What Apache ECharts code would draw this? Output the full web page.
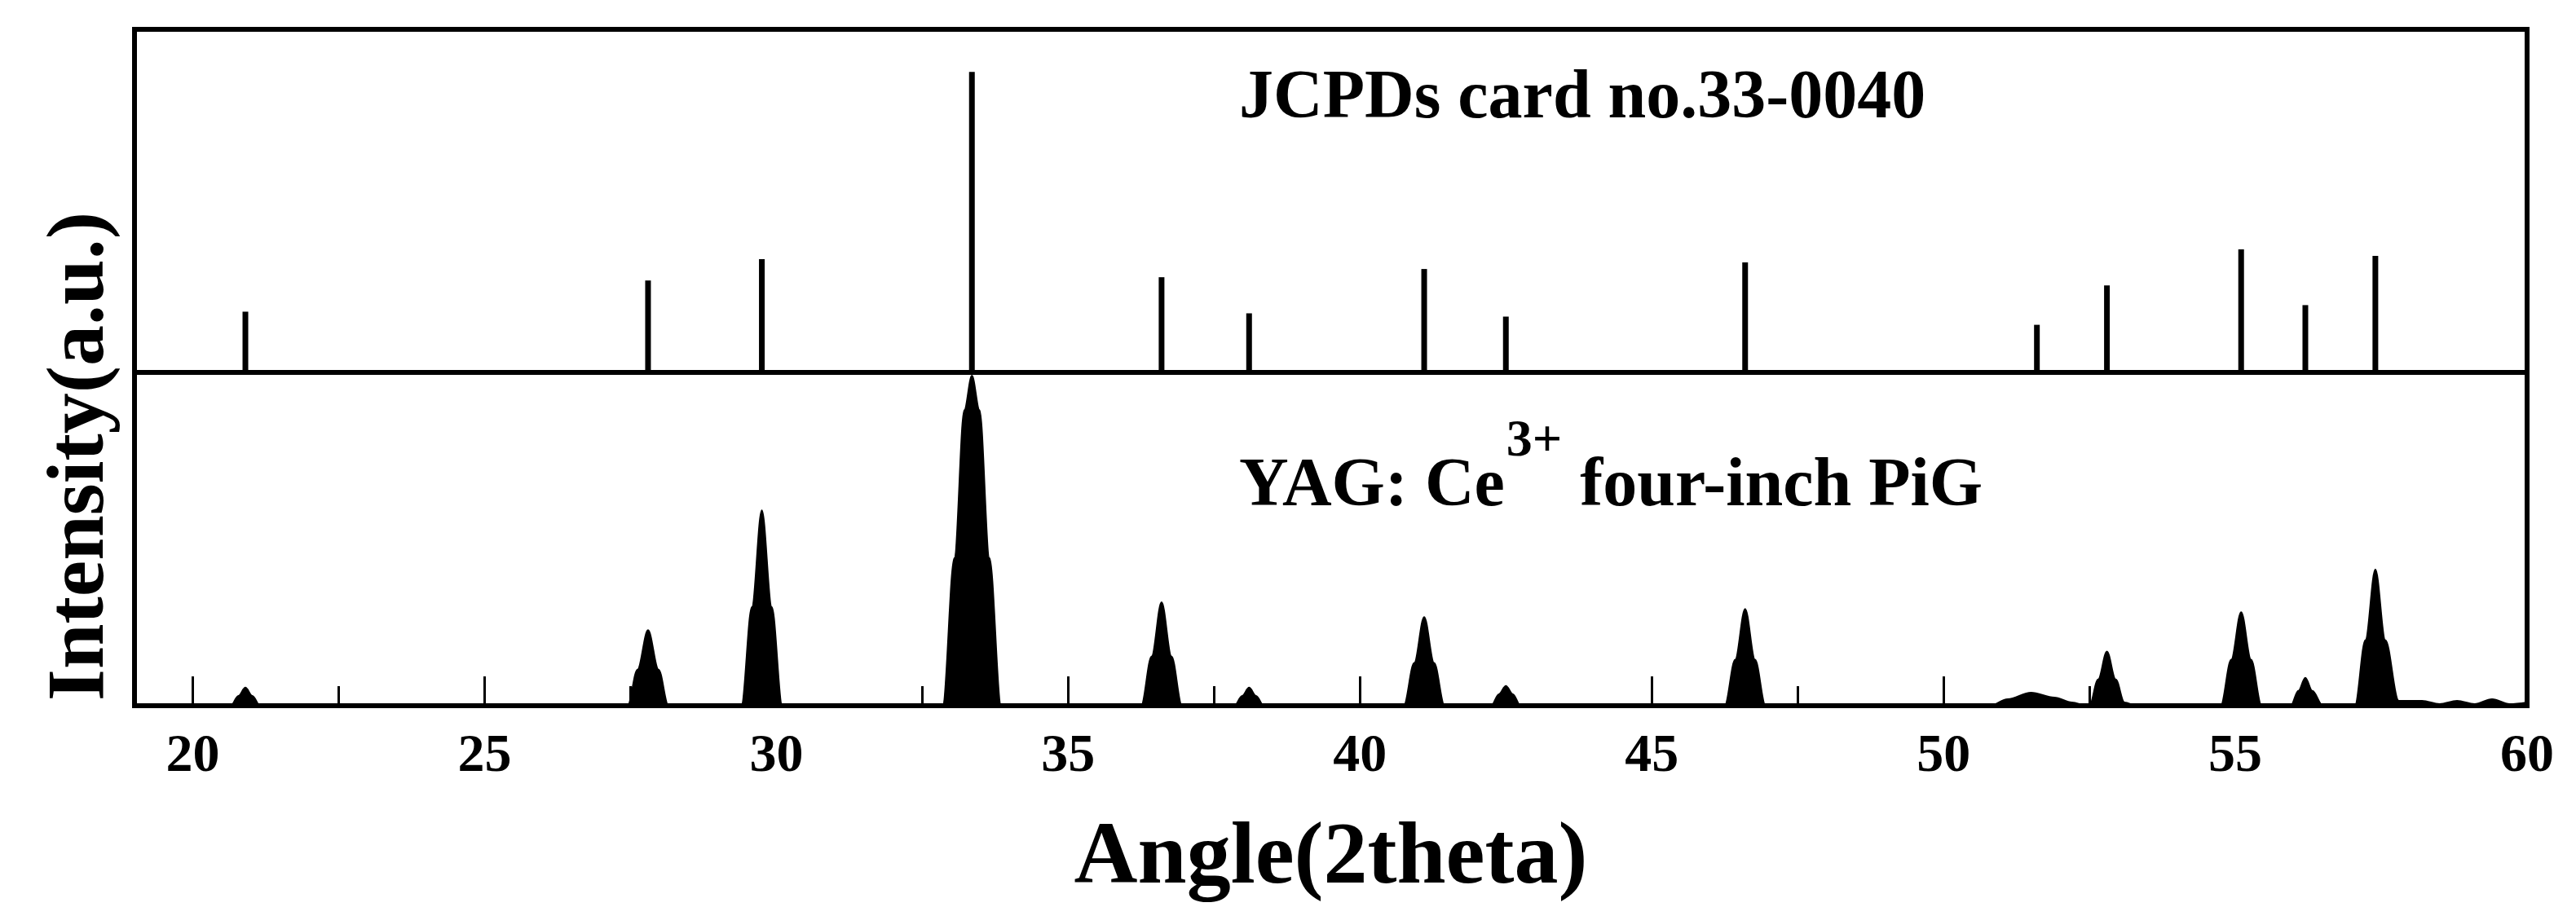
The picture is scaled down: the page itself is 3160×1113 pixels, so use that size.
<!DOCTYPE html>
<html><head><meta charset="utf-8">
<script src="https://cdn.jsdelivr.net/npm/echarts@6/dist/echarts.min.js"></script>
<style>html,body{margin:0;background:#fff}#c{width:3160px;height:1113px}</style>
</head><body><div id="c"></div>
<script>
// JCPDS card 33-0040 reference lines [2theta, relative intensity]
const cardLines = [
  [20.9, 37], [27.8, 56], [29.75, 69], [33.35, 183], [36.6, 58], [38.1, 36],
  [41.1, 63], [42.5, 34], [46.6, 67], [51.6, 29], [52.8, 53], [55.1, 75],
  [56.2, 41], [57.4, 71]
]
const pigProfile = [
  [19, 0], [20.65, 0], [20.78, 6], [20.9, 11], [21.02, 6], [21.15, 0],
  [27.45, 0], [27.62, 22], [27.8, 46], [27.98, 22], [28.15, 0],
  [29.4, 0], [29.58, 60], [29.75, 119], [29.92, 60], [30.1, 0],
  [32.85, 0], [33.05, 90], [33.22, 180], [33.35, 201], [33.48, 180], [33.65, 90], [33.85, 0],
  [36.25, 0], [36.43, 30], [36.6, 63], [36.77, 30], [36.95, 0],
  [37.85, 0], [37.98, 6], [38.1, 11], [38.22, 6], [38.35, 0],
  [40.75, 0], [40.93, 26], [41.1, 54], [41.27, 26], [41.45, 0],
  [42.25, 0], [42.38, 7], [42.5, 12], [42.62, 7], [42.75, 0],
  [46.25, 0], [46.43, 28], [46.6, 59], [46.77, 28], [46.95, 0],
  [50.8, 0], [51.1, 4], [51.5, 8], [51.9, 5], [52.2, 2], [52.45, 0],
  [52.5, 0], [52.65, 16], [52.8, 33], [52.95, 16], [53.1, 2], [53.3, 0],
  [54.75, 0], [54.93, 28], [55.1, 57], [55.27, 28], [55.45, 0],
  [55.95, 0], [56.08, 9], [56.2, 17], [56.32, 9], [56.5, 0],
  [57.05, 0], [57.23, 40], [57.4, 83], [57.57, 40], [57.8, 3],
  [58.2, 3], [58.5, 1], [58.8, 3], [59.1, 1], [59.4, 4], [59.7, 1], [60, 2]
]
const majorTicks = [20, 25, 30, 35, 40, 45, 50, 55, 60]
const minorTicks = [22.5, 27.5, 32.5, 37.5, 42.5, 47.5, 52.5, 57.5]

const font = '"Liberation Serif", "DejaVu Serif", serif'
const chart = echarts.init(document.getElementById('c'))

const baseX = {type: 'value', min: 19, max: 60, splitLine: {show: false},
  axisLine: {show: false}, axisTick: {show: false}, axisLabel: {show: false}}

chart.setOption({
  animation: false,
  grid: [
    {left: 165, width: 2935, top: 36, height: 421, show: true, borderColor: '#000', borderWidth: 6},
    {left: 165, width: 2935, top: 457, height: 409, show: true, borderColor: '#000', borderWidth: 6},
    {left: 165, width: 2935, top: 457, height: 409}
  ],
  xAxis: [
    Object.assign({}, baseX, {gridIndex: 0}),
    Object.assign({}, baseX, {gridIndex: 1,
      axisTick: {show: true, inside: true, length: 36, lineStyle: {width: 3, color: '#000'}, customValues: majorTicks},
      axisLabel: {show: true, customValues: majorTicks, margin: 30, fontFamily: font, fontWeight: 'bold', fontSize: 66, color: '#000'},
      name: 'Angle(2theta)', nameLocation: 'middle', nameGap: 135,
      nameTextStyle: {fontFamily: font, fontWeight: 'bold', fontSize: 108, color: '#000'}}),
    Object.assign({}, baseX, {gridIndex: 2,
      axisTick: {show: true, inside: true, length: 24, lineStyle: {width: 3, color: '#000'}, customValues: minorTicks}})
  ],
  yAxis: [
    {type: 'value', gridIndex: 0, min: 0, max: 209, show: false},
    {type: 'value', gridIndex: 1, min: 0, max: 203, show: false},
    {type: 'value', gridIndex: 2, min: 0, max: 203, show: false}
  ],
  series: [
    {type: 'bar', xAxisIndex: 0, yAxisIndex: 0, data: cardLines, barWidth: 7,
      itemStyle: {color: '#000'}},
    {type: 'line', xAxisIndex: 1, yAxisIndex: 1, data: pigProfile, symbol: 'none',
      smooth: 0.35, smoothMonotone: 'x',
      lineStyle: {color: '#000', width: 2}, areaStyle: {color: '#000', opacity: 1}}
  ],
  graphic: [
    {type: 'text', left: 1520, top: 80, style: {text: 'JCPDs card no.33-0040',
      font: 'bold 84px ' + font, fill: '#000'}},
    {type: 'text', left: 1520, top: 510, style: {
      text: '{a|YAG: Ce}{s|3+}{a|four-inch PiG}',
      rich: {
        a: {font: 'bold 84px ' + font, fill: '#000', verticalAlign: 'bottom', lineHeight: 130},
        s: {font: 'bold 64px ' + font, fill: '#000', verticalAlign: 'top', lineHeight: 130, padding: [0, 22, 0, 2]}
      }}},
    {type: 'text', x: 100, y: 560, rotation: Math.PI / 2, style: {text: 'Intensity(a.u.)',
      font: 'bold 100px ' + font, fill: '#000', align: 'center', verticalAlign: 'middle'}}
  ]
})
</script>
</body></html>
